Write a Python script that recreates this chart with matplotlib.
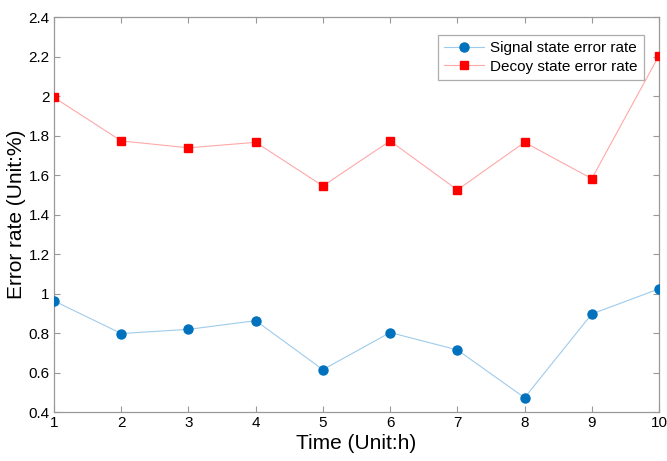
import matplotlib
matplotlib.use("Agg")
import matplotlib.pyplot as plt

# ---------------------------------------------------------------------------
# Data
# ---------------------------------------------------------------------------
hours = [1, 2, 3, 4, 5, 6, 7, 8, 9, 10]
signal_err = [0.963, 0.798, 0.819, 0.863, 0.615, 0.803, 0.715, 0.473, 0.897, 1.024]
decoy_err = [1.993, 1.773, 1.738, 1.766, 1.545, 1.773, 1.525, 1.766, 1.582, 2.205]

x_ticks = [1, 2, 3, 4, 5, 6, 7, 8, 9, 10]
y_ticks = [0.4, 0.6, 0.8, 1.0, 1.2, 1.4, 1.6, 1.8, 2.0, 2.2, 2.4]
y_tick_labels = ["0.4", "0.6", "0.8", "1", "1.2", "1.4", "1.6", "1.8", "2", "2.2", "2.4"]

plt.rcParams["font.family"] = ["Liberation Sans", "DejaVu Sans"]

fig = plt.figure(figsize=(6.67, 4.61), dpi=100)
ax = fig.add_axes([0.081, 0.106, 0.907, 0.857])

ax.plot(hours, signal_err, color="#9fcbea", linewidth=0.8,
        marker="o", markersize=6.5, markerfacecolor="#0072bd",
        markeredgecolor="#0072bd", label="Signal state error rate", zorder=3)
ax.plot(hours, decoy_err, color="#ffa8a8", linewidth=0.8,
        marker="s", markersize=6, markerfacecolor="#ff0000",
        markeredgecolor="#ff0000", label="Decoy state error rate", zorder=3)

ax.set_xlim(1, 10)
ax.set_ylim(0.4, 2.4)
ax.set_xticks(x_ticks)
ax.set_yticks(y_ticks)
ax.set_yticklabels(y_tick_labels)
ax.tick_params(direction="in", length=4, width=0.8, color="#999999",
               labelsize=11, top=True, right=True, pad=3)
for spine in ax.spines.values():
    spine.set_color("#999999")
    spine.set_linewidth(0.9)

ax.set_xlabel("Time (Unit:h)", fontsize=15, labelpad=3)
ax.set_ylabel("Error rate (Unit:%)", fontsize=15, labelpad=2)

leg = ax.legend(loc="upper right", bbox_to_anchor=(0.975, 0.955), fontsize=11,
                frameon=True, fancybox=False, handlelength=2.6,
                borderpad=0.4, labelspacing=0.3, handletextpad=0.4,
                borderaxespad=0)
leg.get_frame().set_edgecolor("#999999")
leg.get_frame().set_linewidth(0.9)

fig.savefig("out.png", dpi=100)
